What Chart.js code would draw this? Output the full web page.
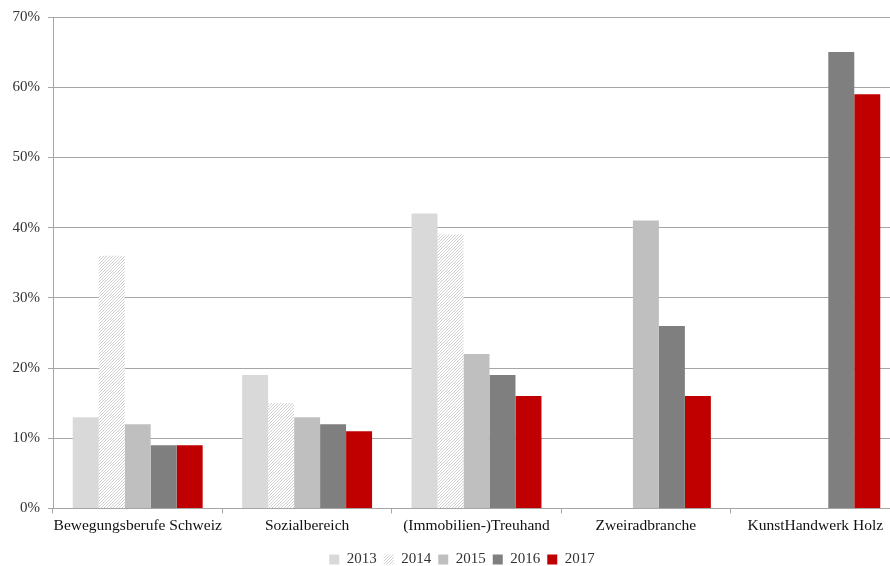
<!DOCTYPE html>
<html>
<head>
<meta charset="utf-8">
<script src="https://cdn.jsdelivr.net/npm/chart.js@4"></script>
<style>
  html, body { margin: 0; padding: 0; background: #fff; overflow: hidden; }
  #wrap { width: 900px; height: 566px; position: relative; }
</style>
</head>
<body>
<div id="wrap"><canvas id="c" width="900" height="566"></canvas></div>
<script>
const categories = ["Bewegungsberufe Schweiz", "Sozialbereich", "(Immobilien-)Treuhand", "Zweiradbranche", "KunstHandwerk Holz"];
const years = ["2013", "2014", "2015", "2016", "2017"];
const v2013 = [13, 19, 42, null, null];
const v2014 = [36, 15, 39, null, null];
const v2015 = [12, 13, 22, 41, null];
const v2016 = [9, 12, 19, 26, 65];
const v2017 = [9, 11, 16, 16, 59];
const yTicks = [0, 10, 20, 30, 40, 50, 60, 70];

function hatch() {
  const pc = document.createElement('canvas');
  pc.width = 3; pc.height = 3;
  const c = pc.getContext('2d');
  c.fillStyle = '#ffffff'; c.fillRect(0, 0, 3, 3);
  c.fillStyle = '#cfcfcf';
  c.fillRect(2, 0, 1, 1);
  c.fillRect(1, 1, 1, 1);
  c.fillRect(0, 2, 1, 1);
  return document.getElementById('c').getContext('2d').createPattern(pc, 'repeat');
}

const colors = ['#d9d9d9', hatch(), '#bfbfbf', '#7f7f7f', '#c00000'];
const series = [v2013, v2014, v2015, v2016, v2017];

const shiftLegend = {
  id: 'shiftLegend',
  afterUpdate(chart) {
    const l = chart.legend;
    if (!l) return;
    l.left += 12; l.right += 12;
    l.top += 7; l.bottom += 7;
    l.adjustHitBoxes();
  }
};

new Chart(document.getElementById('c'), {
  type: 'bar',
  data: {
    labels: categories,
    datasets: years.map((y, i) => ({
      label: y,
      data: series[i],
      backgroundColor: colors[i],
      borderWidth: 0,
      categoryPercentage: 0.767,
      barPercentage: 1.0
    }))
  },
  options: {
    responsive: false,
    animation: false,
    layout: { padding: { top: 15, right: 0, left: 0, bottom: -4 } },
    plugins: {
      legend: {
        position: 'bottom',
        labels: {
          boxWidth: 10, boxHeight: 10, padding: 7,
          color: '#333',
          font: { family: 'Liberation Serif', size: 15 }
        }
      },
      tooltip: { enabled: false }
    },
    scales: {
      x: {
        grid: { drawOnChartArea: false, offset: true, tickLength: 5, color: '#a6a6a6' },
        border: { color: '#a6a6a6' },
        ticks: { color: '#111', font: { family: 'Liberation Serif', size: 15.5 }, padding: 3, maxRotation: 0, autoSkip: false }
      },
      y: {
        min: 0, max: 70,
        afterBuildTicks(s) { s.ticks = yTicks.map(v => ({ value: v })); },
        afterFit(s) { s.width = 53; },
        grid: { color: '#a6a6a6', tickLength: 5 },
        border: { color: '#a6a6a6' },
        ticks: {
          color: '#333',
          font: { family: 'Liberation Serif', size: 15 },
          padding: 8,
          callback: v => v + '%'
        }
      }
    }
  },
  plugins: [shiftLegend]
});
</script>
</body>
</html>
